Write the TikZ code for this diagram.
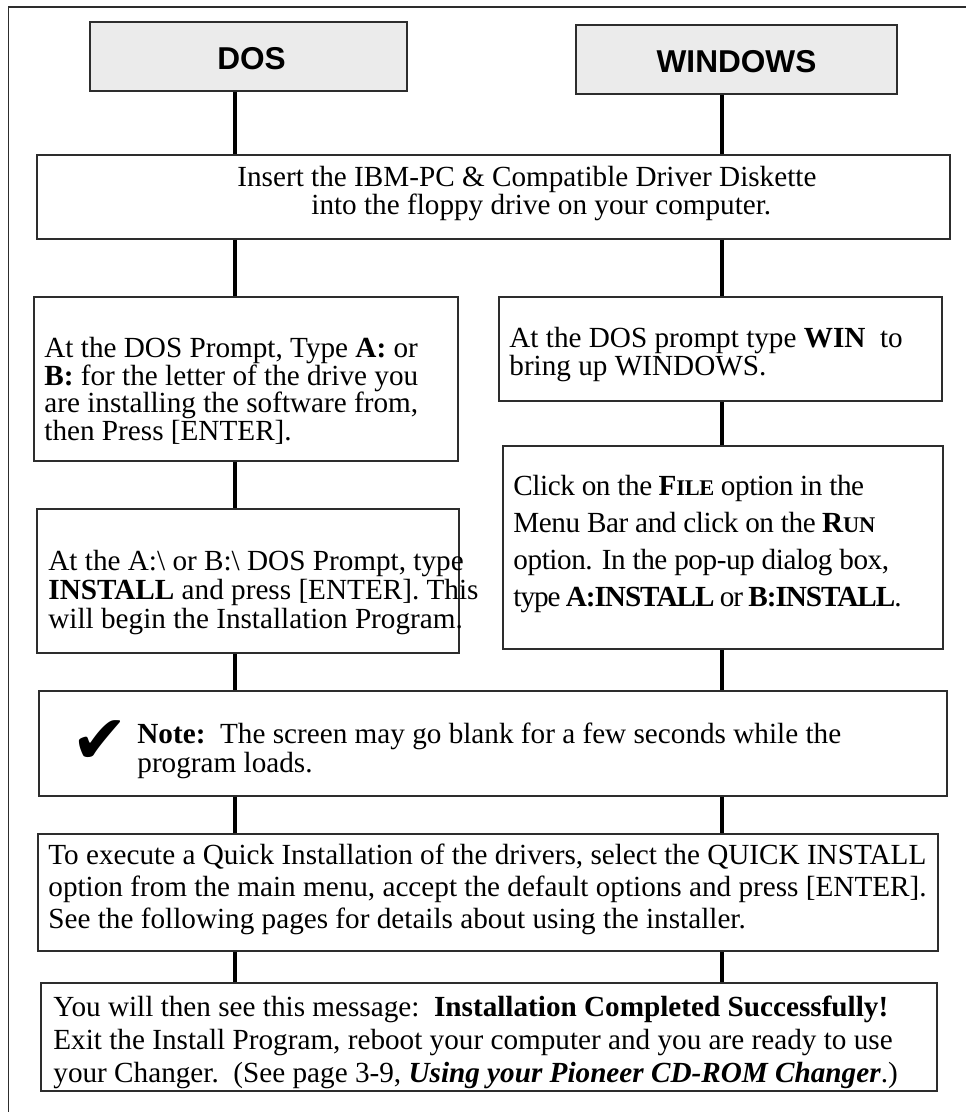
\documentclass[tikz,border=0pt]{standalone}
\usepackage{fontspec}
\setmainfont{Liberation Serif}
\newfontfamily\headfont{Liberation Sans}
\newfontfamily\symfont{DejaVu Sans}
\usepackage{xcolor}
\usetikzlibrary{calc}

\definecolor{hdrgray}{RGB}{235,235,235}
\definecolor{edgegray}{RGB}{45,45,45}

% versalitas falsas (la fuente no las trae)
\newcommand{\capsword}[2]{#1{\fontsize{11.2pt}{11.2pt}\selectfont #2}}
% texto algo mas estrecho
\newcommand{\tightword}[1]{{\addfontfeature{LetterSpace=-3.5}#1}}

\tikzset{
  hdr/.style={draw=edgegray, line width=0.75pt, fill=hdrgray, inner sep=0pt,
    text height=13pt, text depth=0pt,
    font=\headfont\bfseries\fontsize{15.8pt}{15.8pt}\selectfont},
  stepbox/.style={draw=edgegray, line width=0.75pt, fill=white, inner sep=0pt},
  wire/.style={line width=2.4pt, black},
  frame/.style={line width=0.6pt, edgegray},
  % el punto base es la linea base de la ultima linea
  txt/.style={anchor=base west, inner sep=0pt, align=left,
    font=\fontsize{14.6pt}{#1}\selectfont},
  txt/.default=14.5pt
}

\begin{document}
\begin{tikzpicture}[x=0.5pt, y=-0.5pt]
    % Marco de la pagina
    \useasboundingbox (0,0) rectangle (966,1112);
    \draw[frame] (8.5,1112) -- (8.5,7) -- (966,7);

    % Columnas de las lineas
    \coordinate (colL) at (235,0);
    \coordinate (colR) at (722,0);

    % Cabeceras
    \node[hdr, minimum width=158.5pt, minimum height=34.5pt] (dos) at (248.5,56.5) {\hspace*{3pt}DOS};
    \node[hdr, minimum width=160.5pt, minimum height=34.5pt] (windows) at (736.5,59.5) {WINDOWS};

    % Cajas de los pasos
    \node[stepbox, minimum width=456.5pt, minimum height=42pt] (insert) at (493.5,197) {};
    \node[stepbox, minimum width=212pt, minimum height=82pt] (dosprompt) at (246,379) {};
    \node[stepbox, minimum width=221.5pt, minimum height=52pt] (winstart) at (720.5,349) {};
    \node[stepbox, minimum width=211pt, minimum height=72pt] (dosinstall) at (248,581) {};
    \node[stepbox, minimum width=220pt, minimum height=101.5pt] (winrun) at (723,547.5) {};
    \node[stepbox, minimum width=454pt, minimum height=52.5pt] (note) at (493,743.5) {};
    \node[stepbox, minimum width=450pt, minimum height=58.5pt] (quick) at (488,892.5) {};
    \node[stepbox, minimum width=448pt, minimum height=54pt] (done) at (489,1037) {};

    % Lineas de la columna DOS
    \draw[wire] (dos.south -| colL) -- (insert.north -| colL);
    \draw[wire] (insert.south -| colL) -- (dosprompt.north -| colL);
    \draw[wire] (dosprompt.south -| colL) -- (dosinstall.north -| colL);
    \draw[wire] (dosinstall.south -| colL) -- (note.north -| colL);
    \draw[wire] (note.south -| colL) -- (quick.north -| colL);
    \draw[wire] (quick.south -| colL) -- (done.north -| colL);

    % Lineas de la columna WINDOWS
    \draw[wire] (windows.south -| colR) -- (insert.north -| colR);
    \draw[wire] (insert.south -| colR) -- (winstart.north -| colR);
    \draw[wire] (winstart.south -| colR) -- (winrun.north -| colR);
    \draw[wire] (winrun.south -| colR) -- (note.north -| colR);
    \draw[wire] (note.south -| colR) -- (quick.north -| colR);
    \draw[wire] (quick.south -| colR) -- (done.north -| colR);

    % Textos
    \node[txt=14pt] (insert-text) at (237,215)
      {Insert the IBM-PC \& Compatible Driver Diskette\\
       \hspace*{37pt}into the floppy drive on your computer.};
    \node[txt=13.7pt] (dosprompt-text) at (44,440)
      {At the DOS Prompt, Type \textbf{A:} or\\
       \textbf{B:} for the letter of the drive you\\
       are installing the software from,\\
       then Press [ENTER].};
    \node[txt=14pt] (winstart-text) at (509,375)
      {At the DOS prompt type \textbf{WIN}\ \ to\\
       bring up WINDOWS.};
    \node[txt=14.5pt] (dosinstall-text) at (48,628)
      {At the A:\textbackslash{} or B:\textbackslash{} DOS Prompt, type\\
       \textbf{INSTALL} and press [ENTER]. This\\
       will begin the Installation Program.};
    \node[txt=18.5pt] (winrun-text) at (513,606)
      {\addfontfeature{LetterSpace=-1.5}Click on the \textbf{\capsword{F}{ILE}} option in the\\
       \addfontfeature{LetterSpace=-1.5}Menu Bar and click on the \textbf{\capsword{R}{UN}}\\
       \addfontfeature{LetterSpace=-1.5}option. In the pop-up dialog box,\\
       \tightword{type \textbf{A:INSTALL} or \textbf{B:INSTALL}}.};
    \node[font=\symfont\fontsize{34pt}{34pt}\selectfont, inner sep=0pt] (check) at (99.5,742) {✔};
    \node[txt=14.5pt] (note-text) at (137,772)
      {\textbf{Note:}\ \ The screen may go blank for a few seconds while the\\
       program loads.};
    \node[txt=16pt] (quick-text) at (48,928)
      {To execute a Quick Installation of the drivers, select the QUICK INSTALL\\
       option from the main menu, accept the default options and press [ENTER].\\
       See the following pages for details about using the installer.};
    \node[txt=16.5pt] (done-text) at (53,1082)
      {You will then see this message:\ \ \textbf{Installation Completed Successfully!}\\
       Exit the Install Program, reboot your computer and you are ready to use\\
       your Changer.\ \ (See page 3-9, \textbf{\textit{Using your Pioneer CD-ROM Changer}}.)};
\end{tikzpicture}
\end{document}
